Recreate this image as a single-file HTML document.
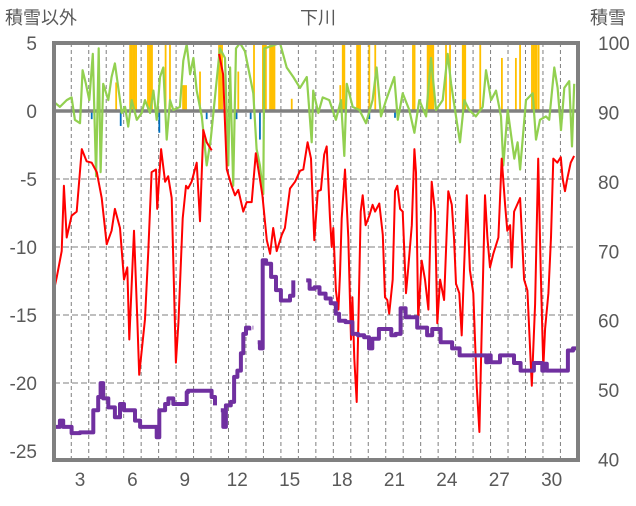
<!DOCTYPE html>
<html><head><meta charset="utf-8">
<style>
html,body{margin:0;padding:0;background:#fff;}
svg text{font-family:"Liberation Sans","Noto Sans CJK JP",sans-serif;fill:#595959;}
</style></head>
<body>
<svg id="chart" width="636" height="501" viewBox="0 0 636 501" xmlns="http://www.w3.org/2000/svg">
<defs><clipPath id="pc"><rect x="54" y="43" width="524" height="417"/></clipPath></defs>
<text x="5" y="24" font-size="18">積雪以外</text>
<text x="318" y="24" font-size="18" text-anchor="middle">下川</text>
<text x="590" y="24" font-size="18">積雪</text>
<g id="grid"></g>
<g id="marks" clip-path="url(#pc)"></g>
<g id="frame"></g>
<g id="axes"></g>
</svg>
<script>
const leftTicks=[5,0,-5,-10,-15,-20,-25];
const rightTicks=[100,90,80,70,60,50,40];
const xTickDays=[3,6,9,12,15,18,21,24,27,30];

const tempDays=[1.47,1.67,1.95,2.08,2.24,2.52,2.81,3.10,3.38,3.67,3.96,4.24,4.53,4.81,5.00,5.29,5.52,5.71,5.82,6.09,6.28,6.39,6.72,6.91,7.10,7.35,7.42,7.64,7.87,8.05,8.25,8.49,8.63,8.88,9.07,9.18,9.39,9.68,9.87,10.06,10.25,10.54,null,10.96,11.19,11.40,11.68,11.87,12.06,12.35,12.54,12.83,13.06,13.30,13.44,13.69,13.88,14.06,14.26,14.55,14.73,15.02,15.31,15.59,15.78,16.03,16.22,16.41,16.61,16.79,16.98,17.12,17.31,17.41,17.50,17.65,17.79,17.88,17.98,18.17,18.36,18.51,18.59,18.70,18.84,18.93,19.07,19.18,19.35,19.56,19.75,19.89,20.13,20.33,20.46,20.59,20.70,20.90,21.03,21.16,21.32,21.47,21.66,21.79,21.99,22.14,22.23,22.36,22.56,22.75,22.94,23.13,23.32,23.45,23.61,23.84,24.08,24.28,24.41,24.52,24.71,24.85,24.98,25.14,25.32,25.51,25.71,25.86,25.99,26.18,26.32,26.47,26.66,26.95,27.14,27.33,27.46,27.62,27.71,27.85,28.09,28.19,28.42,28.61,28.86,29.05,29.23,29.37,29.52,29.62,29.81,29.96,30.09,30.32,30.52,30.63,30.76,30.89,31.09,31.28];
const tempVals=[-13.4,-12.2,-10.3,-5.5,-9.3,-7.7,-7.4,-2.8,-3.7,-3.8,-4.5,-6.4,-9.8,-8.8,-7.2,-8.6,-12.4,-11.5,-16.8,-8.8,-15.3,-19.4,-15.3,-10.3,-4.5,-4.3,-7.2,-2.8,-5.2,-4.8,-6.4,-18.5,-15.6,-7.9,-5.5,-5.7,-5.2,-3.8,-8.1,-1.4,-2.3,-2.9,null,4.2,2.7,-4.3,-5.5,-6.2,-5.8,-7.4,-6.7,-6.7,-3.1,-5.0,-6.2,-9.5,-10.5,-8.6,-10.3,-9.1,-8.6,-5.7,-5.2,-4.4,-4.3,-2.3,-3.5,-9.5,-5.9,-5.8,-3.2,-2.6,-7.9,-10.0,-8.6,-13.2,-14.6,-12.0,-7.9,-4.3,-9.3,-16.8,-13.7,-18.2,-21.4,-15.8,-7.4,-6.2,-8.4,-7.7,-6.9,-7.4,-6.8,-9.1,-13.7,-13.9,-14.9,-12.4,-5.9,-5.5,-7.2,-7.4,-13.4,-11.5,-8.4,-2.8,-4.5,-15.3,-11.0,-12.4,-14.6,-5.2,-7.4,-15.6,-12.4,-13.9,-5.9,-6.9,-9.3,-12.7,-13.4,-16.5,-11.7,-6.2,-11.7,-13.4,-20.2,-23.6,-16.5,-6.2,-9.3,-11.5,-10.5,-9.3,-3.5,-6.9,-8.8,-8.4,-11.5,-7.4,-6.7,-6.4,-12.4,-13.2,-20.2,-14.2,-3.5,-11.7,-18.9,-16.0,-13.4,-9.3,-3.5,-3.8,-3.4,-5.0,-5.9,-5.0,-3.8,-3.3];

const windDays=[1.57,1.85,2.24,2.52,2.71,3.0,3.15,3.34,3.53,3.73,3.92,4.07,4.18,4.33,4.62,4.81,5.0,5.19,5.39,5.58,5.76,5.96,6.25,6.53,6.72,7.01,7.2,7.39,7.58,7.77,7.96,8.15,8.34,8.72,8.91,9.11,9.3,9.49,9.68,9.97,10.25,10.48,11.01,11.3,11.49,11.59,11.77,11.93,12.16,12.44,12.63,12.92,13.11,13.3,13.49,13.55,14.45,14.83,15.21,15.59,15.98,16.26,16.35,16.64,16.89,17.27,17.65,17.94,18.13,18.27,18.61,18.99,19.37,19.75,19.98,20.23,20.52,20.99,21.19,21.47,21.85,22.14,22.42,22.81,23.09,23.38,23.76,24.05,24.24,24.52,24.75,25.0,25.28,25.66,26.05,26.24,26.53,26.81,27.1,27.23,27.48,27.86,28.05,28.19,28.53,28.91,29.1,29.33,29.67,29.86,30.15,30.34,30.53,30.72,31.0,31.16,31.29];
const windVals=[0.6,0.3,0.8,1.0,-0.65,-0.9,3,2,0.8,4.2,-4.8,4.6,-4.5,2,0.8,2.5,3.5,1.7,-0.15,0.3,-1.15,0.8,-0.65,-0.15,0.8,-0.15,1.5,-0.65,2.5,3.2,-2.1,0.8,0.07,0.3,3.7,4.9,2.7,3.9,1.5,-0.4,-4,-2.1,4.6,3.9,-4,3.2,-5.5,4.6,5,4.4,3.2,1.3,-2.8,-4,-6.1,4.6,5,3.2,2.5,1.7,2.5,-2.3,1.5,-0.15,1,0.8,-0.65,0.8,-3.3,2,0.3,0.07,-0.9,0.8,3.2,-0.4,0.8,2.5,-0.65,1.3,0.07,-1.6,0.8,-0.4,3.9,0.07,0.8,4.2,2,-0.4,-2.3,0.8,0.07,-0.4,0.3,3,0.8,1.5,-0.4,-4,0.07,-3.5,-2.3,-4.3,0.8,1.3,-2.1,-0.65,-0.4,-0.65,3.2,1.7,-1.4,1.7,2.2,-2.6,2];

const snowDays=[1.47,1.85,2.04,2.52,2.52,3.0,3.57,3.76,4.04,4.18,4.33,4.62,5.0,5.29,5.52,5.96,6.15,6.44,7.01,7.39,7.54,7.87,8.06,8.34,8.82,9.11,9.18,9.39,10.34,10.53,10.73,null,11.06,11.2,11.35,11.63,11.82,12.01,12.21,12.35,12.5,12.69,null,12.88,12.92,null,13.17,13.3,13.46,13.65,13.94,14.22,14.5,14.88,15.02,15.21,null,15.95,16.14,16.43,16.71,17.06,17.35,17.64,17.83,18.2,18.59,18.91,19.26,19.54,19.73,20.11,20.5,20.82,21.07,21.35,21.64,22.3,22.87,23.16,23.64,23.92,24.3,24.73,25.88,25.97,26.25,26.35,26.51,27.04,27.17,27.84,28.03,28.22,28.98,29.17,29.46,29.59,29.72,30.74,30.93,31.22,31.32,31.6];
const snowVals=[44.7,45.6,44.7,44.7,43.8,43.9,43.9,47.1,49,51,48.8,47.5,46.1,48,47.1,47.1,45.6,44.7,44.7,43.2,47.1,48,48.8,48,48,49.7,49.9,49.9,49.9,49,47.8,null,47.1,44.7,47.8,48.3,51.9,52.8,55.3,58.1,59,58.6,null,59,59,null,56.9,56,68.7,68.2,66.3,64.4,62.9,62.9,63.6,65.8,null,65.8,64.6,64.8,63.9,63.2,62.5,61,60,59.8,58.1,57.9,57.6,56,57.4,58.8,58.8,57.9,58.1,61.8,60.5,59,57.9,58.8,56.9,56.9,56,55,55,55,54,55,54,55,55,53.9,53.9,52.8,53.9,53.9,52.8,53.8,52.8,52.8,55.7,56,56,55,56];

const precipDays=[5.07,5.87,5.95,6.04,6.12,6.21,6.89,6.98,7.06,7.12,7.9,8.15,8.9,8.98,9.07,9.87,10.96,11.04,11.13,12.06,12.96,13.47,13.56,13.64,13.88,13.97,14.05,14.13,15.12,17.9,18.04,18.13,18.86,18.94,19.03,19.56,19.9,22.06,22.15,22.9,22.99,23.07,23.16,23.22,23.95,24.18,24.91,24.99,25.05,25.91,27.15,27.95,28.19,28.87,28.96,29.05,29.13,29.25];
const precipVals=[2.1,5.5,5.5,5.5,5.5,5.5,5.5,5.5,5.5,5.5,5.5,5.5,1.9,1.9,1.9,2.9,5.5,5.5,5.5,2.9,5.5,5.5,5.5,5.5,5.5,5.5,5.5,5.5,0.9,1.9,5.5,5.5,5.5,5.5,5.5,5.5,5.5,5.5,5.5,5.5,5.5,5.5,5.5,5.5,5.5,5.5,5.5,5.5,5.5,5.5,3.9,3.9,5.5,5.5,5.5,5.5,5.5,5.5];

const snowfallDays=[3.67,5.33,7.54,10.25,11.96,12.77,13.3,13.53,19.56,21.03,30.6];
const snowfallVals=[-0.6,-1.1,-1.6,-0.6,-0.6,-0.6,-2.1,-0.6,-0.6,-0.5,-0.6];

const X0=53.8,DX=17.47,TOP=43,BOT=459.5;
function xs(d){return X0+(d-1.5)*DX;}
function yL(v){return 111-v*(111-TOP)/5;}
function yR(s){return BOT-(s-40)*(BOT-TOP)/60;}
const NS='http://www.w3.org/2000/svg';
function mk(tag,attrs,parent){const e=document.createElementNS(NS,tag);for(const k in attrs)e.setAttribute(k,attrs[k]);parent.appendChild(e);return e;}
const grid=document.getElementById('grid'),marks=document.getElementById('marks'),frame=document.getElementById('frame'),axes=document.getElementById('axes');

for(let d=2.5;d<31.5;d+=1){
  const l=mk('line',{x1:xs(d),x2:xs(d),y1:TOP,y2:BOT,stroke:'#7f7f7f','stroke-width':1,'stroke-dasharray':'4,3'},grid);
  
  
}
leftTicks.forEach(v=>{
  if(v!==5&&v!==0&&v!==-25){
    const l=mk('line',{x1:54,x2:578,y1:yL(v),y2:yL(v),stroke:'#7f7f7f','stroke-width':1,'stroke-dasharray':'6,3'},grid);
    
    
  }
  const t=mk('text',{x:37,y:yL(v)+7,'font-size':19,'text-anchor':'end'},axes);
  t.textContent=v;
  
  
});
rightTicks.forEach(s=>{
  const t=mk('text',{x:598,y:yR(s)+7,'font-size':19},axes);
  t.textContent=s;
  
  
});
xTickDays.forEach(d=>{
  const t=mk('text',{x:xs(d),y:486,'font-size':19,'text-anchor':'middle'},axes);
  t.textContent=d;
  
  
});

precipDays.forEach((d,i)=>{
  const y=yL(precipVals[i]);
  const r=mk('rect',{x:xs(d)-0.9,y:y,width:1.8,height:yL(0)-y,fill:'#ffc000'},marks);
  
  
});
snowfallDays.forEach((d,i)=>{
  const r=mk('rect',{x:xs(d)-0.9,y:yL(0),width:1.8,height:yL(snowfallVals[i])-yL(0),fill:'#0070c0'},marks);
  
  
});
const zl=mk('line',{x1:54,x2:578,y1:yL(0),y2:yL(0),stroke:'#808080','stroke-width':3.5},marks);



function pathOf(days,vals,yf){let p='',pen=false;for(let i=0;i<days.length;i++){if(days[i]===null||vals[i]===null){pen=false;continue;}p+=(pen?'L':'M')+xs(days[i]).toFixed(1)+','+yf(vals[i]).toFixed(1);pen=true;}return p;}
function stepOf(days,vals,yf){let p='',pen=false,py=0;for(let i=0;i<days.length;i++){if(days[i]===null||vals[i]===null){pen=false;continue;}const x=xs(days[i]).toFixed(1),y=yf(vals[i]).toFixed(1);if(pen){p+='L'+x+','+py+'L'+x+','+y;}else{p+='M'+x+','+y;}py=y;pen=true;}return p;}
const g=mk('path',{d:pathOf(windDays,windVals,yL),fill:'none',stroke:'#92d050','stroke-width':2.2,'stroke-linejoin':'round'},marks);


const r=mk('path',{d:pathOf(tempDays,tempVals,yL),fill:'none',stroke:'#ff0000','stroke-width':2,'stroke-linejoin':'round'},marks);


const p=mk('path',{d:stepOf(snowDays,snowVals,yR),fill:'none',stroke:'#7030a0','stroke-width':4,'stroke-linejoin':'round'},marks);



const fr=mk('rect',{x:54,y:43,width:524,height:417,fill:'none',stroke:'#808080','stroke-width':4},frame);


</script>
</body></html>
